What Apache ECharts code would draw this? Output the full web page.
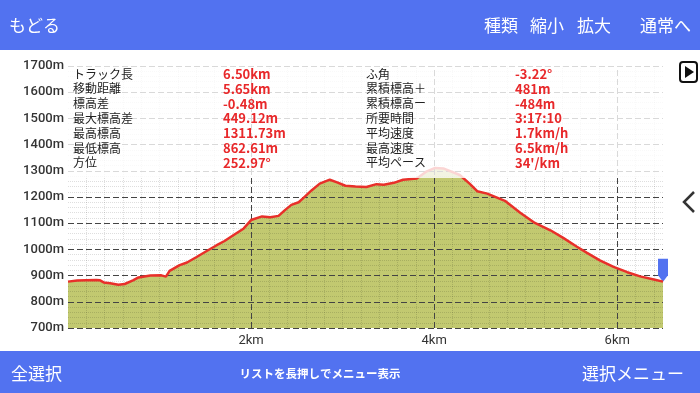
<!DOCTYPE html>
<html><head><meta charset="utf-8">
<script src="https://cdn.jsdelivr.net/npm/echarts@6/dist/echarts.min.js"></script>
<style>html,body{margin:0;padding:0;background:#fff;}#c{width:700px;height:393px;}</style>
</head><body><div id="c"></div>
<script>
const distanceKm = [0.00,0.10,0.20,0.31,0.35,0.39,0.46,0.55,0.62,0.71,0.77,0.90,1.02,1.07,1.11,1.22,1.30,1.40,1.52,1.62,1.71,1.81,1.92,2.00,2.12,2.21,2.30,2.37,2.44,2.52,2.57,2.66,2.75,2.86,2.94,3.03,3.14,3.26,3.37,3.45,3.56,3.66,3.81,3.92,4.01,4.10,4.28,4.39,4.47,4.58,4.78,4.94,5.10,5.27,5.41,5.56,5.67,5.81,5.96,6.11,6.25,6.40,6.50];
const elevationM = [877,881,882,883,882,874,871,865,868,882,893,900,901,896,918,940,950,970,995,1015,1032,1055,1080,1112,1126,1123,1128,1150,1170,1180,1196,1225,1251,1266,1256,1243,1240,1238,1249,1247,1254,1266,1271,1298,1311,1309,1284,1250,1222,1213,1184,1140,1101,1073,1044,1010,987,958,933,913,897,885,877];
const xMajorTicksKm = [2, 4, 6];
const yTickLabelUnit = 'm';
const xTickLabelUnit = 'km';
const statLabelsLeft = ['トラック長','移動距離','標高差','最大標高差','最高標高','最低標高','方位'];
const statValuesLeft = ['6.50km','5.65km','-0.48m','449.12m','1311.73m','862.61m','252.97°'];
const statLabelsRight = ['ふ角','累積標高＋','累積標高ー','所要時間','平均速度','最高速度','平均ペース'];
const statValuesRight = ['-3.22°','481m','-484m','3:17:10','1.7km/h','6.5km/h',"34'/km"];
const headerLeft = 'もどる';
const headerButtons = ['種類','縮小','拡大'];
const headerRight = '通常へ';
const footerLeft = '全選択';
const footerCenter = 'リストを長押しでメニュー表示';
const footerRight = '選択メニュー';

const pts = distanceKm.map((d,i)=>[d, elevationM[i]]);
const chart = echarts.init(document.getElementById('c'), null, {renderer:'canvas'});
const JP = '"Noto Sans CJK JP", "Noto Sans", sans-serif';
const blue = '#5272f0';

const g = [];
g.push({type:'rect', z:100, shape:{x:0,y:0,width:700,height:50}, style:{fill:blue}});
g.push({type:'rect', z:100, shape:{x:0,y:351,width:700,height:42}, style:{fill:blue}});
g.push({type:'text', z:101, style:{text:headerLeft, x:9, y:26, fill:'#fff', font:'17px '+JP, textVerticalAlign:'middle'}});
const hbx = [484, 530, 577];
headerButtons.forEach((t,i)=>g.push({type:'text', z:101, style:{text:t, x:hbx[i], y:26, fill:'#fff', font:'17px '+JP, textVerticalAlign:'middle'}}));
g.push({type:'text', z:101, style:{text:headerRight, x:691, y:26, fill:'#fff', font:'17px '+JP, textAlign:'right', textVerticalAlign:'middle'}});
g.push({type:'text', z:101, style:{text:footerLeft, x:11, y:374, fill:'#fff', font:'17px '+JP, textVerticalAlign:'middle'}});
g.push({type:'text', z:101, style:{text:footerCenter, x:320, y:374, fill:'#fff', font:'bold 11.5px '+JP, textAlign:'center', textVerticalAlign:'middle'}});
g.push({type:'text', z:101, style:{text:footerRight, x:684, y:374, fill:'#fff', font:'17px '+JP, textAlign:'right', textVerticalAlign:'middle'}});
g.push({type:'rect', z:50, shape:{x:68,y:52,width:595,height:126}, style:{fill:'rgba(255,255,255,0.8)'}});
const rowY0 = 74, rowStep = 14.8;
statLabelsLeft.forEach((t,i)=>{
  g.push({type:'text', z:60, style:{text:t, x:73, y:rowY0+i*rowStep, fill:'#222', font:'12px '+JP, textVerticalAlign:'middle'}});
  g.push({type:'text', z:60, style:{text:statValuesLeft[i], x:223, y:rowY0+i*rowStep, fill:'#e8282a', font:'bold 13px '+JP, textVerticalAlign:'middle'}});
  g.push({type:'text', z:60, style:{text:statLabelsRight[i], x:366, y:rowY0+i*rowStep, fill:'#222', font:'12px '+JP, textVerticalAlign:'middle'}});
  g.push({type:'text', z:60, style:{text:statValuesRight[i], x:515, y:rowY0+i*rowStep, fill:'#e8282a', font:'bold 13px '+JP, textVerticalAlign:'middle'}});
});
g.push({type:'rect', z:100, shape:{x:680,y:62,width:17,height:20,r:3}, style:{fill:'none', stroke:'#111', lineWidth:2}});
g.push({type:'polygon', z:100, shape:{points:[[685,66],[685,78],[694,72]]}, style:{fill:'#111'}});
g.push({type:'polyline', z:100, shape:{points:[[694,192],[684,202],[694,212]]}, style:{stroke:'#333', lineWidth:2.5, fill:'none'}});

const option = {
  backgroundColor:'#fff',
  animation:false,
  grid:{left:68, right:37, top:66, bottom:65},
  xAxis:{type:'value', min:0, max:6.5, interval:2, z:3,
    axisLine:{show:false}, axisTick:{show:false},
    axisLabel:{margin:6, color:'#333', fontSize:13, fontFamily:'Roboto', showMinLabel:false, showMaxLabel:false, formatter:v=> v + xTickLabelUnit},
    splitLine:{show:false},
    minorTick:{show:false, splitNumber:10},
    minorSplitLine:{show:true, lineStyle:{color:'rgba(0,0,0,0.13)', type:'dotted', width:1}}
  },
  yAxis:{type:'value', min:700, max:1700, interval:100, z:3,
    axisLine:{show:false}, axisTick:{show:false},
    axisLabel:{margin:4, color:'#333', fontSize:13, fontWeight:500, fontFamily:'Roboto', formatter:v=> v + yTickLabelUnit},
    splitLine:{show:true, lineStyle:{color:'#444', type:[6,3], width:1}},
    minorTick:{show:false, splitNumber:5},
    minorSplitLine:{show:true, lineStyle:{color:'rgba(0,0,0,0.13)', type:'dotted', width:1}}
  },
  series:[
    {type:'line', data:pts, showSymbol:false, z:1, lineStyle:{width:0}, areaStyle:{color:'#c2c970', opacity:1, origin:'start'}},
    {type:'line', data:pts, showSymbol:false, z:5, lineStyle:{color:'#e8302a', width:2.5},
      markLine:{silent:true, symbol:'none', label:{show:false}, z:3,
        lineStyle:{color:'#444', type:[6,3], width:1},
        data:xMajorTicksKm.map(v=>({xAxis:v}))},
      markPoint:{symbol:'path://M0,0 L10,0 L10,16 L5,22 L0,16 Z', symbolSize:[10,23], symbolOffset:[0,'-50%'],
        itemStyle:{color:blue}, label:{show:false},
        data:[{coord:pts[pts.length-1]}]}}
  ],
  graphic:g
};
chart.setOption(option);
</script></body></html>
